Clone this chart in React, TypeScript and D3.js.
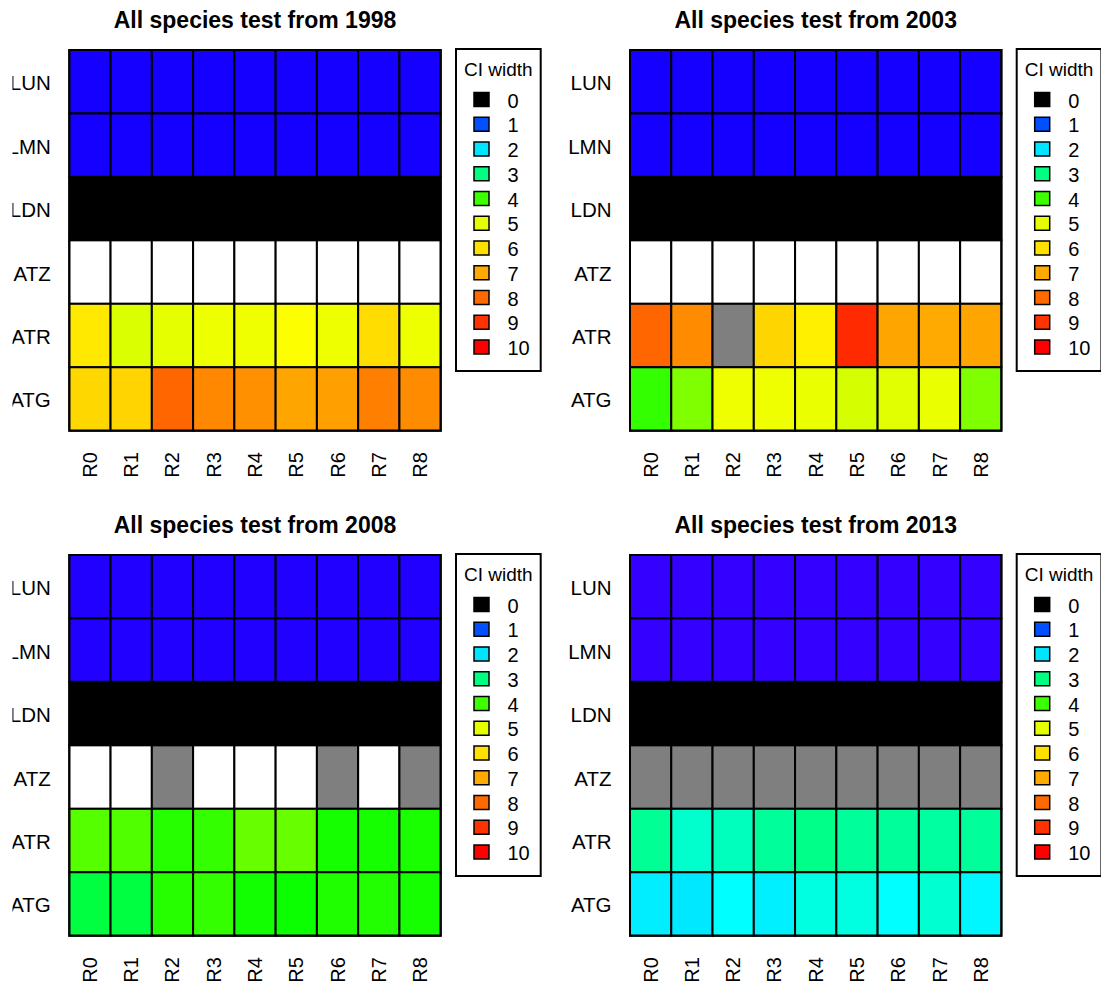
import React from "react";
import * as d3 from "d3";

// ---- data ----
const rowsCat = ["LUN", "LMN", "LDN", "ATZ", "ATR", "ATG"];
const colsCat = ["R0", "R1", "R2", "R3", "R4", "R5", "R6", "R7", "R8"];
const years = [1998, 2003, 2008, 2013];
const legendValues = [0, 1, 2, 3, 4, 5, 6, 7, 8, 9, 10];
const legendTitle = "CI width";

const NA: number | null = null; // grey: not available
const NONE = -1; // white: no estimate

// CI width per species (rows) and region (columns)
const values1998: (number | null)[][] = [
  [0.39, 0.39, 0.39, 0.39, 0.39, 0.39, 0.39, 0.39, 0.39],
  [0.39, 0.39, 0.39, 0.39, 0.39, 0.39, 0.39, 0.39, 0.39],
  [0, 0, 0, 0, 0, 0, 0, 0, 0],
  [NONE, NONE, NONE, NONE, NONE, NONE, NONE, NONE, NONE],
  [5.85, 4.93, 5.0, 5.15, 5.19, 5.42, 5.15, 6.08, 5.15],
  [6.18, 6.24, 8.08, 7.53, 7.41, 7.08, 7.17, 7.66, 7.47],
];
const values2003: (number | null)[][] = [
  [0.39, 0.39, 0.39, 0.39, 0.39, 0.39, 0.39, 0.39, 0.39],
  [0.39, 0.39, 0.39, 0.39, 0.39, 0.39, 0.39, 0.39, 0.39],
  [0, 0, 0, 0, 0, 0, 0, 0, 0],
  [NONE, NONE, NONE, NONE, NONE, NONE, NONE, NONE, NONE],
  [8.08, 7.47, NA, 6.22, 5.73, 9.18, 7.08, 7.0, 7.08],
  [3.95, 4.4, 5.19, 5.19, 5.08, 4.9, 4.97, 5.08, 4.4],
];
const values2008: (number | null)[][] = [
  [0.31, 0.31, 0.31, 0.31, 0.31, 0.31, 0.31, 0.31, 0.31],
  [0.31, 0.31, 0.31, 0.31, 0.31, 0.31, 0.31, 0.31, 0.31],
  [0, 0, 0, 0, 0, 0, 0, 0, 0],
  [NONE, NONE, NA, NONE, NONE, NONE, NA, NONE, NA],
  [4.15, 4.12, 3.88, 3.95, 4.25, 4.25, 3.8, 3.8, 3.82],
  [3.34, 3.34, 3.88, 3.95, 3.77, 3.74, 3.85, 3.86, 3.8],
];
const values2013: (number | null)[][] = [
  [0.2, 0.2, 0.2, 0.2, 0.2, 0.2, 0.2, 0.2, 0.2],
  [0.2, 0.2, 0.2, 0.2, 0.2, 0.2, 0.2, 0.2, 0.2],
  [0, 0, 0, 0, 0, 0, 0, 0, 0],
  [NA, NA, NA, NA, NA, NA, NA, NA, NA],
  [2.87, 2.5, 2.61, 2.83, 2.95, 2.83, 2.83, 2.79, 2.83],
  [2.06, 2.02, 2.17, 2.07, 2.37, 2.37, 2.17, 2.47, 2.12],
];
const panelValues = [values1998, values2003, values2008, values2013];

// colour anchors of the palette
const paletteDomain = [0, 1, 2, 3, 4, 5, 6, 7, 8, 9, 10];
const paletteColors = [
  "#5500ff", "#0050ff", "#00e5ff", "#00ff80", "#3cff00", "#e6ff00",
  "#ffe100", "#ffaa00", "#ff6a00", "#ff3300", "#ff0000",
];

const scaleColor = d3
  .scaleLinear<string>()
  .domain(paletteDomain)
  .range(paletteColors)
  .interpolate(d3.interpolateHsl)
  .clamp(true);

function cellColor(v: number | null): string {
  if (v === null) return "#7f7f7f";
  if (v < 0) return "#ffffff";
  if (v === 0) return "#000000";
  return scaleColor(v);
}

// ---- layout ----
const W = 1101;
const H = 985;
const plotW = 371.4;
const plotH = 380.7;
const originX = [69.3, 630];
const originY = [50, 555];
const FONT = "'Liberation Sans', Arial, Helvetica, sans-serif";

function Panel({ idx }: { idx: number }) {
  const x0 = originX[idx % 2];
  const y0 = originY[Math.floor(idx / 2)];
  const x = d3.scaleBand<string>().domain(colsCat).range([x0, x0 + plotW]);
  const y = d3.scaleBand<string>().domain(rowsCat).range([y0, y0 + plotH]);
  const vals = panelValues[idx];
  const legX = x0 + plotW + 15.3;
  const legY = y0 - 1;
  const legW = 84.7;
  const legH = 322;
  const legStep = 24.75;
  const clipId = `figclip${idx}`;
  const isLeft = idx % 2 === 0;
  const figLeft = isLeft ? 12.5 : 0;
  return (
    <g>
      <defs>
        <clipPath id={clipId}>
          <rect x={figLeft} y={y0 - 60} width={W} height={500} />
        </clipPath>
      </defs>
      <text
        x={x0 + plotW / 2}
        y={y0 - 21.7}
        textAnchor="middle"
        fontFamily={FONT}
        fontWeight="bold"
        fontSize={23}
      >
        {`All species test from ${years[idx]}`}
      </text>
      {rowsCat.map((r, ri) =>
        colsCat.map((c, ci) => (
          <rect
            key={r + c}
            x={x(c)}
            y={y(r)}
            width={x.bandwidth()}
            height={y.bandwidth()}
            fill={cellColor(vals[ri][ci])}
            stroke="#000"
            strokeWidth={2}
          />
        ))
      )}
      <rect x={x0} y={y0} width={plotW} height={plotH} fill="none" stroke="#000" strokeWidth={2} />
      <g clipPath={`url(#${clipId})`}>
        {rowsCat.map((r) => (
          <text
            key={r}
            x={x0 - 18.5}
            y={(y(r) as number) + y.bandwidth() / 2 + 1}
            textAnchor="end"
            dominantBaseline="central"
            fontFamily={FONT}
            fontSize={20.5}
          >
            {r}
          </text>
        ))}
      </g>
      {colsCat.map((c) => {
        const cx = (x(c) as number) + x.bandwidth() / 2;
        const cy = y0 + plotH + 21.5;
        return (
          <text
            key={c}
            transform={`translate(${cx},${cy}) rotate(-90)`}
            textAnchor="end"
            dominantBaseline="central"
            fontFamily={FONT}
            fontSize={20}
          >
            {c}
          </text>
        );
      })}
      <rect x={legX} y={legY} width={legW} height={legH} fill="#fff" stroke="#000" strokeWidth={2} />
      <text
        x={legX + legW / 2}
        y={legY + 27}
        textAnchor="middle"
        fontFamily={FONT}
        fontSize={19}
      >
        {legendTitle}
      </text>
      {legendValues.map((v, i) => {
        const cy = legY + 50.5 + i * legStep;
        return (
          <g key={v}>
            <rect
              x={legX + 18}
              y={cy - 7}
              width={15}
              height={14}
              fill={cellColor(v)}
              stroke="#000"
              strokeWidth={1.5}
            />
            <text
              x={legX + 51.5}
              y={cy + 1}
              dominantBaseline="central"
              fontFamily={FONT}
              fontSize={20}
            >
              {v}
            </text>
          </g>
        );
      })}
    </g>
  );
}

export default function App() {
  return (
    <svg
      width={W}
      height={H}
      viewBox={`0 0 ${W} ${H}`}
      style={{ position: "absolute", left: 0, top: 0, background: "#fff" }}
    >
      <rect x={0} y={0} width={W} height={H} fill="#fff" />
      {years.map((_, i) => (
        <Panel key={i} idx={i} />
      ))}
    </svg>
  );
}
